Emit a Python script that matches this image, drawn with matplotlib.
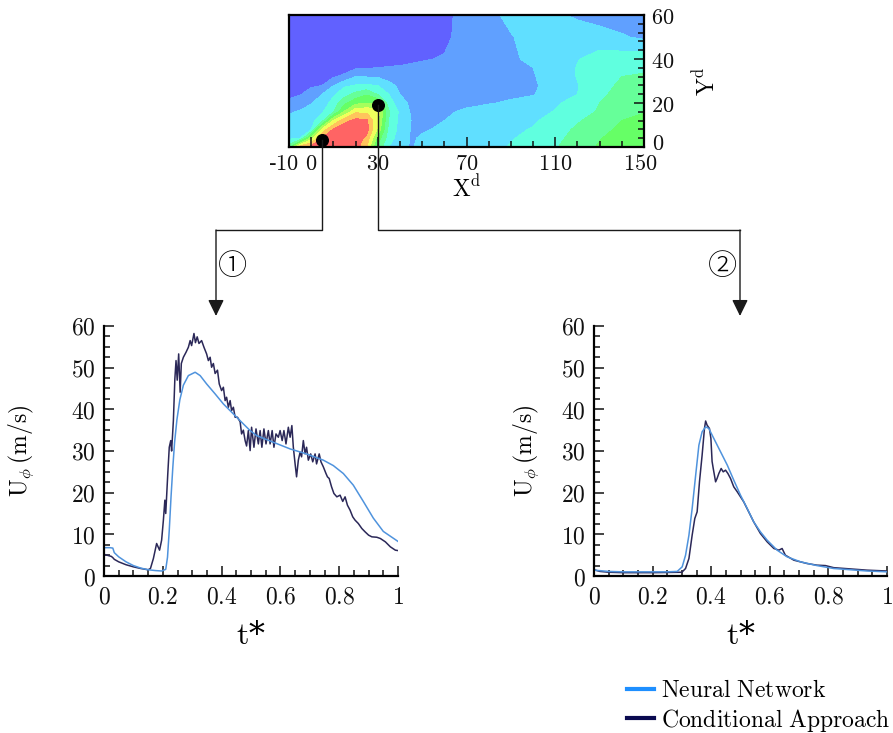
import numpy as np
import matplotlib
matplotlib.use("Agg")
import matplotlib.pyplot as plt
from matplotlib.lines import Line2D
from matplotlib.patches import FancyArrowPatch
from matplotlib.ticker import MultipleLocator
from matplotlib.transforms import ScaledTranslation

plt.rcParams['mathtext.fontset'] = 'cm'
plt.rcParams['font.family'] = ['DejaVu Serif']

# ---------------- contour map data (level index field) ----------------
map_x = [-10, -5, 0, 5, 10, 15, 20, 25, 30, 35, 40, 45, 50, 60, 70, 80, 90, 100, 110, 120, 130, 140, 150]
map_y = [0, 4, 8, 12, 16, 20, 24, 28, 32, 36, 40, 50, 60]
map_row_y0 = [4.5, 8.6, 9.4, 9.7, 9.8, 9.8, 9.5, 8.0, 4.7, 3.0, 2.4, 1.9, 2.3, 2.5, 2.6, 2.8, 3.05, 3.3, 3.9, 4.6, 5.1, 5.5, 5.7]
map_row_y4 = [2.8, 3.0, 6.5, 9.1, 9.6, 9.7, 9.6, 8.7, 5.6, 3.4, 2.55, 1.9, 2.1, 2.35, 2.5, 2.7, 2.95, 3.2, 3.75, 4.35, 4.95, 5.35, 5.6]
map_row_y8 = [2.55, 2.7, 3.0, 7.3, 9.1, 9.6, 9.7, 9.4, 6.8, 3.7, 2.7, 1.95, 1.9, 2.15, 2.45, 2.65, 2.85, 3.05, 3.6, 4.15, 4.7, 5.2, 5.5]
map_row_y12 = [2.2, 2.35, 2.65, 3.7, 7.0, 8.7, 9.3, 9.2, 7.1, 3.95, 2.7, 2.0, 1.8, 2.0, 2.3, 2.5, 2.7, 2.9, 3.3, 3.9, 4.4, 5.0, 5.25]
map_row_y16 = [1.9, 2.1, 2.4, 2.9, 3.97, 6.1, 7.8, 7.8, 7.6, 4.1, 2.8, 1.9, 1.75, 1.85, 2.15, 2.35, 2.5, 2.7, 3.05, 3.6, 4.1, 4.6, 4.95]
map_row_y20 = [1.2, 1.45, 1.95, 2.42, 3.4, 4.75, 5.7, 6.0, 6.0, 3.5, 2.4, 1.8, 1.65, 1.6, 1.8, 1.95, 2.1, 2.3, 2.85, 3.4, 4.0, 4.5, 4.8]
map_row_y24 = [0.8, 0.95, 1.3, 2.0, 2.85, 3.55, 4.3, 4.9, 3.9, 3.0, 2.0, 1.6, 1.5, 1.5, 1.6, 1.7, 1.85, 1.95, 2.4, 3.0, 3.85, 4.25, 4.55]
map_row_y28 = [0.6, 0.75, 0.9, 1.0, 1.95, 2.85, 3.05, 3.1, 3.0, 2.3, 1.8, 1.5, 1.4, 1.45, 1.55, 1.65, 1.8, 1.9, 2.3, 2.95, 3.7, 4.15, 4.35]
map_row_y32 = [0.4, 0.5, 0.6, 0.75, 0.9, 1.2, 2.0, 1.95, 1.9, 1.6, 1.4, 1.3, 1.3, 1.4, 1.5, 1.6, 1.8, 1.95, 2.35, 3.05, 3.65, 4.0, 4.1]
map_row_y36 = [0.3, 0.3, 0.35, 0.4, 0.5, 0.6, 0.85, 0.95, 1.0, 1.05, 1.05, 1.1, 1.15, 1.3, 1.45, 1.6, 1.8, 2.0, 2.4, 3.05, 3.55, 3.8, 3.85]
map_row_y40 = [0.3, 0.3, 0.3, 0.3, 0.3, 0.35, 0.45, 0.55, 0.65, 0.75, 0.85, 0.9, 0.95, 1.05, 1.3, 1.5, 1.85, 2.2, 2.5, 2.95, 3.4, 3.5, 3.6]
map_row_y50 = [0.3, 0.3, 0.3, 0.3, 0.3, 0.3, 0.3, 0.3, 0.3, 0.3, 0.3, 0.35, 0.45, 0.85, 1.3, 1.7, 1.95, 2.3, 2.5, 2.7, 2.4, 2.1, 1.8]
map_row_y60 = [0.3, 0.3, 0.3, 0.3, 0.3, 0.3, 0.3, 0.3, 0.3, 0.3, 0.4, 0.45, 0.5, 0.8, 1.3, 1.8, 2.2, 2.4, 2.2, 1.8, 1.6, 1.5, 1.5]
map_levels = [0, 1, 2, 3, 4, 5, 6, 7, 8, 9, 10]
map_colors = ['#6161ff', '#60a0ff', '#60dfff', '#60ffdf', '#66ff99', '#66ff66',
              '#a6ff5c', '#f0ff5c', '#ffc45c', '#ff6464']
map_xticks = [-10, 0, 30, 70, 110, 150]
map_yticks = [0, 20, 40, 60]
probe_x = [5, 30]
probe_y = [3, 19]

# ---------------- probe 1 time series ----------------
p1_cond_t = [0, 0.01, 0.025, 0.03, 0.035, 0.05, 0.075, 0.1, 0.125, 0.15, 0.158, 0.168, 0.179, 0.189,
             0.196, 0.202, 0.207, 0.21, 0.217, 0.222, 0.227, 0.23, 0.236, 0.241, 0.245, 0.249, 0.254,
             0.259, 0.263, 0.27, 0.279, 0.287, 0.293, 0.298, 0.306, 0.311, 0.317, 0.323, 0.332, 0.34,
             0.349, 0.355, 0.361, 0.366, 0.372, 0.378, 0.386, 0.392, 0.4, 0.406, 0.412, 0.417, 0.423,
             0.429, 0.434, 0.44, 0.446, 0.454, 0.463, 0.468, 0.474, 0.48, 0.485, 0.491, 0.497, 0.502,
             0.51, 0.517, 0.525, 0.531, 0.537, 0.544, 0.551, 0.559, 0.565, 0.572, 0.578, 0.585, 0.593,
             0.599, 0.606, 0.612, 0.619, 0.627, 0.633, 0.639, 0.644, 0.65, 0.655, 0.661, 0.667, 0.672,
             0.678, 0.684, 0.689, 0.695, 0.703, 0.71, 0.718, 0.723, 0.732, 0.738, 0.746, 0.755, 0.76,
             0.766, 0.774, 0.782, 0.792, 0.803, 0.812, 0.82, 0.828, 0.837, 0.846, 0.854, 0.865, 0.877,
             0.888, 0.9, 0.911, 0.928, 0.94, 0.957, 0.974, 0.991, 1.0]
p1_cond_u = [5.2, 5.0, 4.7, 4.4, 4.0, 3.4, 2.7, 2.2, 1.8, 1.5, 1.8, 4.2, 7.8, 6.2,
             8.6, 13.4, 18.2, 15.0, 24.6, 30.9, 32.5, 30.0, 37.3, 47.3, 51.7, 47.0, 53.3,
             44.1, 51.0, 52.5, 53.7, 54.9, 56.5, 55.3, 58.2, 56.0, 57.4, 55.8, 56.5, 54.9,
             53.3, 51.7, 52.5, 50.1, 51.0, 48.6, 49.4, 46.1, 44.5, 45.3, 42.1, 42.9, 40.5,
             42.1, 39.7, 40.5, 38.1, 38.1, 37.0, 34.1, 35.0, 32.5, 31.2, 34.9, 30.1, 35.7,
             30.9, 35.3, 31.7, 34.9, 30.9, 35.3, 31.7, 34.9, 31.7, 34.9, 30.9, 34.1, 33.3,
             34.9, 32.5, 34.9, 31.7, 35.7, 33.3, 36.1, 30.9, 26.9, 23.8, 27.8, 29.7, 28.6,
             32.5, 29.3, 30.9, 27.8, 29.3, 27.4, 29.3, 26.9, 29.3, 27.4, 26.2, 24.6, 23.8,
             23.4, 21.4, 19.8, 19.0, 19.4, 17.9, 19.0, 17.0, 15.8, 14.2, 13.4, 12.6, 11.4,
             10.6, 9.8, 9.4, 9.3, 9.0, 8.2, 7.0, 6.2, 6.1]
p1_nn_t = [0, 0.02, 0.03, 0.035, 0.05, 0.075, 0.1, 0.125, 0.15, 0.175, 0.196, 0.21, 0.216, 0.222,
           0.228, 0.234, 0.24, 0.248, 0.258, 0.27, 0.287, 0.31, 0.327, 0.349, 0.378, 0.406, 0.44,
           0.474, 0.497, 0.519, 0.576, 0.633, 0.689, 0.746, 0.78, 0.814, 0.848, 0.882, 0.916, 0.95, 1.0]
p1_nn_u = [6.8, 6.8, 6.7, 5.6, 4.6, 3.4, 2.5, 1.9, 1.5, 1.3, 1.2, 1.6, 4.5, 11.0,
           19.0, 26.0, 32.0, 37.5, 42.3, 45.8, 48.1, 48.9, 48.1, 46.1, 43.7, 41.3, 38.9,
           36.5, 34.9, 33.7, 32.1, 30.5, 29.3, 27.8, 26.5, 24.6, 21.8, 17.9, 13.9, 10.7, 8.3]

# ---------------- probe 2 time series ----------------
p2_cond_t = [0, 0.02, 0.05, 0.1, 0.2, 0.3, 0.3125, 0.324, 0.335, 0.344, 0.352, 0.36, 0.369, 0.377,
             0.381, 0.386, 0.394, 0.399, 0.403, 0.407, 0.415, 0.42, 0.426, 0.434, 0.441, 0.449, 0.457,
             0.466, 0.477, 0.489, 0.5, 0.511, 0.528, 0.545, 0.568, 0.591, 0.614, 0.631, 0.642, 0.653,
             0.682, 0.727, 0.761, 0.79, 0.818, 0.932, 1.0]
p2_cond_u = [1.5, 1.1, 0.9, 0.8, 0.8, 0.9, 1.8, 4.2, 9.8, 13.8, 15.4, 22.6, 29.0, 35.4,
             37.2, 36.2, 35.4, 33.0, 27.5, 25.8, 22.6, 23.4, 24.6, 25.8, 25.0, 25.4, 24.6,
             23.4, 21.4, 20.2, 19.0, 17.8, 15.4, 13.0, 10.2, 8.2, 6.6, 6.2, 6.6, 5.0,
             3.8, 3.0, 2.6, 2.5, 2.0, 1.4, 1.2]
p2_nn_t = [0, 0.05, 0.1, 0.2, 0.25, 0.284, 0.301, 0.3125, 0.324, 0.335, 0.347, 0.358, 0.369, 0.381,
           0.392, 0.409, 0.432, 0.455, 0.477, 0.5, 0.523, 0.545, 0.568, 0.591, 0.625, 0.659, 0.705,
           0.761, 0.818, 0.932, 1.0]
p2_nn_u = [1.4, 1.1, 1.0, 1.0, 1.0, 1.1, 2.2, 5.0, 9.8, 16.2, 24.2, 31.4, 34.6, 35.8,
           35.4, 33.0, 29.8, 26.6, 23.0, 19.4, 16.2, 13.0, 10.6, 8.6, 6.2, 4.6, 3.4,
           2.5, 1.8, 1.2, 1.0]

t_ticks = [0, 0.2, 0.4, 0.6, 0.8, 1.0]
t_labels = ['0', '0.2', '0.4', '0.6', '0.8', '1']
u_ticks = [0, 10, 20, 30, 40, 50, 60]
series_names = ['Neural Network', 'Conditional Approach']

NN_COLOR = '#4f93dd'
COND_COLOR = '#2b2858'

W, H = 893, 733
fig = plt.figure(figsize=(W / 100, H / 100), dpi=100)


def box(l, t, r, b):
    return [l / W, 1 - b / H, (r - l) / W, (b - t) / H]


def m(s):
    return r'$\mathrm{' + s + '}$'


def num_label(v):
    s = str(v)
    if s.startswith('-'):
        return '-' + m(s[1:])
    return m(s)


# ---------------- contour map ----------------
axm = fig.add_axes(box(289, 15, 644, 147))
field = np.array([map_row_y0, map_row_y4, map_row_y8, map_row_y12, map_row_y16, map_row_y20,
                  map_row_y24, map_row_y28, map_row_y32, map_row_y36, map_row_y40,
                  map_row_y50, map_row_y60])
axm.contourf(map_x, map_y, field, levels=map_levels, colors=map_colors, antialiased=False)
axm.set_xlim(-10, 150)
axm.set_ylim(0, 60)
axm.scatter(probe_x, probe_y, s=70, color='black', zorder=5, clip_on=False)
axm.yaxis.tick_right()
axm.yaxis.set_label_position('right')
axm.set_xticks(map_xticks, [num_label(v) for v in map_xticks])
axm.set_yticks(map_yticks, [num_label(v) for v in map_yticks])
axm.xaxis.set_minor_locator(MultipleLocator(10))
axm.yaxis.set_minor_locator(MultipleLocator(4))
axm.tick_params(which='both', direction='in', labelsize=16, width=1.1, colors='#111')
axm.tick_params(which='major', length=7)
axm.tick_params(which='minor', length=4)
axm.tick_params(axis='x', pad=4)
axm.tick_params(axis='y', pad=5)
for sp in axm.spines.values():
    sp.set_linewidth(1.6)
axm.set_xlabel(m('X^d'), fontsize=17, labelpad=1)
axm.set_ylabel(m('Y^d'), fontsize=17, labelpad=14, rotation=90)
# nudge the crowded corner labels apart, as in the reference
lab = axm.xaxis.get_major_ticks()[0].label1
lab.set_transform(lab.get_transform() + ScaledTranslation(-0.06, 0, fig.dpi_scale_trans))
lab = axm.xaxis.get_major_ticks()[-1].label1
lab.set_transform(lab.get_transform() + ScaledTranslation(-0.04, 0, fig.dpi_scale_trans))
lab = axm.yaxis.get_major_ticks()[0].label2
lab.set_transform(lab.get_transform() + ScaledTranslation(0.01, 0.06, fig.dpi_scale_trans))


# ---------------- time-series panels ----------------
def panel(rect, cond_t, cond_u, nn_t, nn_u, ylab_x):
    ax = fig.add_axes(rect)
    ax.plot(cond_t, cond_u, color=COND_COLOR, lw=1.1)
    ax.plot(nn_t, nn_u, color=NN_COLOR, lw=1.1)
    ax.set_xlim(0, 1)
    ax.set_ylim(0, 60)
    ax.spines['top'].set_visible(False)
    ax.spines['right'].set_visible(False)
    for s in ('left', 'bottom'):
        ax.spines[s].set_linewidth(1.6)
    ax.set_xticks(t_ticks, [m(s) for s in t_labels])
    ax.set_yticks(u_ticks, [m(str(v)) for v in u_ticks])
    ax.xaxis.set_minor_locator(MultipleLocator(0.05))
    ax.yaxis.set_minor_locator(MultipleLocator(2.5))
    ax.tick_params(which='both', direction='in', labelsize=17, width=1.1, colors='#111')
    ax.tick_params(which='major', length=7)
    ax.tick_params(which='minor', length=4)
    ax.tick_params(axis='x', pad=7)
    ax.tick_params(axis='y', pad=6)
    ax.set_xlabel(m('t') + '*', fontsize=23, labelpad=8)
    ax.set_ylabel(r'$\mathrm{U}_{\phi}\,\mathrm{(m/s)}$', fontsize=17)
    ax.yaxis.set_label_coords(ylab_x, 0.5)
    return ax


ax1 = panel(box(104, 326, 398, 576), p1_cond_t, p1_cond_u, p1_nn_t, p1_nn_u, (36 - 104) / 294)
ax2 = panel(box(594, 326, 887, 576), p2_cond_t, p2_cond_u, p2_nn_t, p2_nn_u, (541 - 594) / 293)

# ---------------- connectors ----------------
inv = fig.transFigure.inverted()
d1 = inv.transform(axm.transData.transform((probe_x[0], probe_y[0])))
d2 = inv.transform(axm.transData.transform((probe_x[1], probe_y[1])))
yh = 1 - 230 / H
ytip = 1 - 316 / H
xa1 = 216 / W
xa2 = 740 / W
lc = '#1a1a1a'
fig.add_artist(Line2D([d1[0], d1[0], xa1], [d1[1], yh, yh], color=lc, lw=1.0,
                      transform=fig.transFigure))
fig.add_artist(Line2D([d2[0], d2[0], xa2], [d2[1], yh, yh], color=lc, lw=1.0,
                      transform=fig.transFigure))
for xa in (xa1, xa2):
    fig.add_artist(FancyArrowPatch((xa, yh), (xa, ytip), transform=fig.transFigure,
                                   arrowstyle='-|>,head_length=0.45,head_width=0.22',
                                   mutation_scale=22, color=lc, lw=1.0,
                                   shrinkA=0, shrinkB=0))
fig.text(232 / W, 1 - 267 / H, '\u2460', ha='center', va='center', fontsize=21,
         family=['Noto Sans CJK JP'], fontweight='light')
fig.text(722 / W, 1 - 267 / H, '\u2461', ha='center', va='center', fontsize=21,
         family=['Noto Sans CJK JP'], fontweight='light')

# ---------------- legend ----------------
handles = [Line2D([], [], color='#1e8fff', lw=3),
           Line2D([], [], color='#0a0a50', lw=3)]
fig.legend(handles, [m(s.replace(' ', r'\ ')) for s in series_names],
           loc='upper left', bbox_to_anchor=(627 / W, 1 - 679 / H),
           frameon=False, fontsize=17, handlelength=1.15, handletextpad=0.3,
           labelspacing=0.2, borderpad=0, borderaxespad=0)

fig.savefig('out.png', dpi=100)
